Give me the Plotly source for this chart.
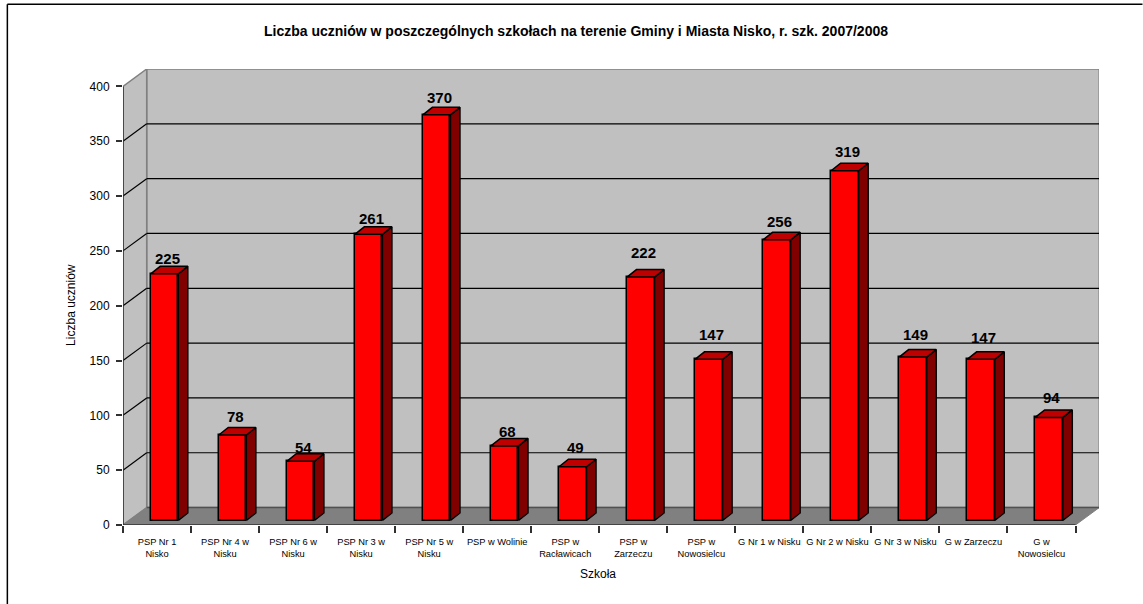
import plotly.graph_objects as go

categories = ["PSP Nr 1<br>Nisko", "PSP Nr 4 w<br>Nisku", "PSP Nr 6 w<br>Nisku", "PSP Nr 3 w<br>Nisku",
              "PSP Nr 5 w<br>Nisku", "PSP w Wolinie", "PSP w<br>Racławicach", "PSP w<br>Zarzeczu",
              "PSP w<br>Nowosielcu", "G Nr 1 w Nisku", "G Nr 2 w Nisku", "G Nr 3 w Nisku",
              "G w Zarzeczu", "G w<br>Nowosielcu"]
students = [225, 78, 54, 261, 370, 68, 49, 222, 147, 256, 319, 149, 147, 94]
y_ticks = [0, 50, 100, 150, 200, 250, 300, 350, 400]
label_lift_px = [15, 18, 14, 16, 17, 14, 19, 25, 25, 18, 19, 23, 22, 20]

# pixel geometry of the pseudo-3D frame
W, H = 1143, 604
PLOT_L, PLOT_R, PLOT_T, PLOT_B = 123.0, 1099.5, 69.3, 525.0
CAT_W = (1076.0 - 123.0) / 14
UNIT = (525.0 - 86.7) / 400
WALL_DX = 23.7 / CAT_W
WALL_DY = 17.4 / UNIT
BAR_W = 27.6 / CAT_W
BAR_SHIFT = 7.5 / CAT_W
BAR_BASE = 4.5 / UNIT
DEPTH_DX = 9.5 / CAT_W
DEPTH_DY = 7.5 / UNIT
N = len(categories)
x_max = (PLOT_R - PLOT_L) / CAT_W
y_max = (PLOT_B - PLOT_T) / UNIT
centers = [i + 0.5 for i in range(N)]
bar_x = [c + BAR_SHIFT for c in centers]


def px(x):
    return (x - PLOT_L) / (PLOT_R - PLOT_L)


def py(y):
    return (PLOT_B - y) / (PLOT_B - PLOT_T)


fig = go.Figure()
shapes = []


def poly(xs, ys, fill, color, width):
    path = "M " + " L ".join(f"{a},{b}" for a, b in zip(xs, ys)) + " Z"
    shapes.append(dict(type="path", path=path, fillcolor=fill, layer="below",
                       line=dict(color=color, width=width)))


def seg(x0, y0, x1, y1, color, width):
    shapes.append(dict(type="line", x0=x0, y0=y0, x1=x1, y1=y1, layer="below",
                       line=dict(color=color, width=width)))


top = y_ticks[-1]
poly([WALL_DX, N + WALL_DX, N + WALL_DX, WALL_DX], [WALL_DY, WALL_DY, top + WALL_DY, top + WALL_DY],
     "#C0C0C0", "#808080", 1.5)
poly([0, WALL_DX, WALL_DX, 0], [0, WALL_DY, top + WALL_DY, top], "#C0C0C0", "#808080", 1.5)
poly([0, N, N + WALL_DX, WALL_DX], [0, 0, WALL_DY, WALL_DY], "#808080", "#808080", 1)
seg(WALL_DX, WALL_DY, N + WALL_DX, WALL_DY, "#505050", 1.5)
for v in y_ticks[1:-1]:
    seg(0, v, WALL_DX, v + WALL_DY, "#000000", 1.2)
    seg(WALL_DX, v + WALL_DY, N + WALL_DX, v + WALL_DY, "#000000", 1.2)

# front faces
fig.add_trace(go.Bar(x=bar_x, y=students, base=BAR_BASE, width=BAR_W,
                     marker=dict(color="#FF0000", line=dict(color="#000000", width=1.5)),
                     showlegend=False))

# side and top faces, derived from the same values
for xc, v in zip(bar_x, students):
    l, r = xc - BAR_W / 2, xc + BAR_W / 2
    b, t = BAR_BASE, BAR_BASE + v
    fig.add_trace(go.Scatter(x=[r, r + DEPTH_DX, r + DEPTH_DX, r, r],
                             y=[b, b + DEPTH_DY, t + DEPTH_DY, t, b],
                             mode="lines", fill="toself", fillcolor="#800000",
                             line=dict(color="#000000", width=1.5), showlegend=False, hoverinfo="skip"))
    fig.add_trace(go.Scatter(x=[l, r, r + DEPTH_DX, l + DEPTH_DX, l],
                             y=[t, t, t + DEPTH_DY, t + DEPTH_DY, t],
                             mode="lines", fill="toself", fillcolor="#BF0000",
                             line=dict(color="#000000", width=1.5), showlegend=False, hoverinfo="skip"))

# axis lines (they stop at the front edge of the frame)
fig.add_trace(go.Scatter(x=[0, 0], y=[0, top], mode="lines", line=dict(color="#303030", width=1.5),
                         showlegend=False, hoverinfo="skip"))
fig.add_trace(go.Scatter(x=[0, N], y=[0, 0], mode="lines", line=dict(color="#303030", width=1.5),
                         showlegend=False, hoverinfo="skip"))

annotations = [dict(x=xc + 3 / CAT_W, y=BAR_BASE + v, text=f"<b>{v}</b>", showarrow=False,
                    yshift=lift, font=dict(size=15, color="#000000"), xanchor="center", yanchor="middle")
               for xc, v, lift in zip(bar_x, students, label_lift_px)]
annotations += [
    dict(xref="paper", yref="paper", x=px(598), y=py(574), text="Szkoła", showarrow=False,
         font=dict(size=12), xanchor="center", yanchor="middle"),
    dict(xref="paper", yref="paper", x=px(71), y=py(305), text="Liczba uczniów", showarrow=False,
         font=dict(size=12), textangle=-90, xanchor="center", yanchor="middle"),
]

# outer chart frame, open on the right and bottom as in the picture
frame = [dict(type="line", xref="paper", yref="paper", x0=px(x0), y0=py(y0), x1=px(x1), y1=py(y1),
              line=dict(color="#000000", width=1.5))
         for x0, y0, x1, y1 in [(7.3, 4.7, W, 4.7), (7.3, 4.7, 7.3, H)]]

fig.update_layout(
    width=W, height=H, autosize=False,
    margin=dict(l=PLOT_L, r=W - PLOT_R, t=PLOT_T, b=H - PLOT_B, pad=0),
    paper_bgcolor="#FFFFFF", plot_bgcolor="#FFFFFF",
    font=dict(family="Liberation Sans, Arial, sans-serif", color="#000000"),
    title=dict(text="<b>Liczba uczniów w poszczególnych szkołach na terenie Gminy i Miasta Nisko, r. szk. 2007/2008</b>",
               font=dict(size=14), x=576 / W, xanchor="center", y=1 - 31 / H, yanchor="middle"),
    xaxis=dict(range=[0, x_max], tickmode="array", tickvals=centers, ticktext=categories,
               ticks="", tickfont=dict(size=9.3), showgrid=False, zeroline=False, showline=False,
               tickangle=0, automargin=False, ticklabelstandoff=10,
               minor=dict(tickmode="array", tickvals=list(range(N + 1)), ticks="outside", ticklen=7,
                          tickcolor="#303030", tickwidth=1.5, showgrid=False)),
    yaxis=dict(range=[0, y_max], tickmode="array", tickvals=y_ticks, ticks="outside", ticklen=6,
               tickcolor="#303030", tickwidth=1.5, tickfont=dict(size=12), showgrid=False,
               zeroline=False, showline=False, automargin=False, ticklabelstandoff=4),
    shapes=shapes + frame,
    annotations=annotations,
    bargap=0,
)
fig.write_html("out.html", config={"displayModeBar": False},
               post_script="document.body.style.margin='0';")
